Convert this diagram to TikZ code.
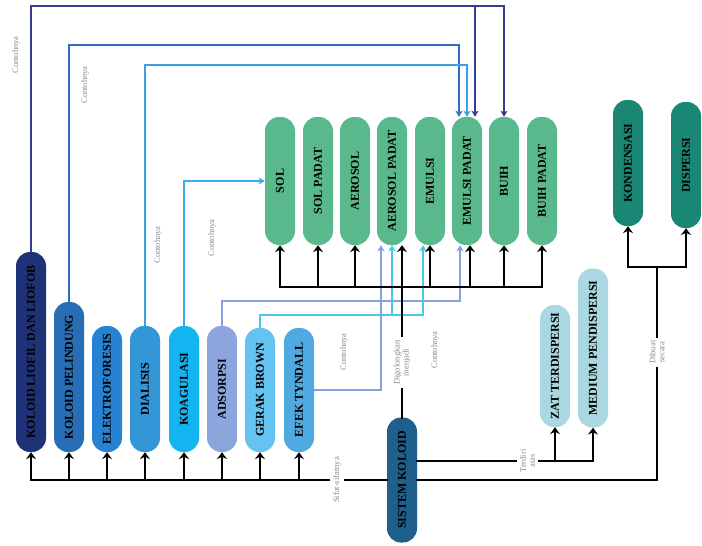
\documentclass[tikz,border=0pt]{standalone}
\usepackage{fontspec}
\setmainfont{Liberation Serif}
\usetikzlibrary{arrows,arrows.meta}

\definecolor{cLiofil}{HTML}{1F3278}
\definecolor{cPelindung}{HTML}{286EB4}
\definecolor{cElektro}{HTML}{2882D2}
\definecolor{cDialisis}{HTML}{3296D7}
\definecolor{cKoagulasi}{HTML}{14B4F0}
\definecolor{cAdsorpsi}{HTML}{8CA5DC}
\definecolor{cBrown}{HTML}{64C3F0}
\definecolor{cTyndall}{HTML}{50AAE1}
\definecolor{cJenis}{HTML}{5AB98C}
\definecolor{cCara}{HTML}{198773}
\definecolor{cFase}{HTML}{AAD7E1}
\definecolor{cSistem}{HTML}{1E5F8C}
\definecolor{lLiofil}{HTML}{373C96}
\definecolor{lPelindung}{HTML}{2D6EBE}
\definecolor{lDialisis}{HTML}{3CA0E6}
\definecolor{lKoagulasi}{HTML}{3CAAEB}
\definecolor{lAdsorpsi}{HTML}{8CA0E1}
\definecolor{lBrown}{HTML}{46C8E6}
\definecolor{lTyndall}{HTML}{87A0E1}

\begin{document}
\begin{tikzpicture}[x=1pt,y=-1pt,
  box/.style={rotate=90,rounded corners=14pt,minimum height=30pt,inner sep=2pt,
    font=\fontsize{12}{13}\selectfont\bfseries},
  trunk/.style={line width=2.4pt,line cap=rect,black},
  conn/.style={-{Stealth[length=7pt,width=10pt,inset=2.5pt]},line width=2.4pt,line cap=rect,black},
  link/.style={-{Stealth[length=6pt,width=7pt,inset=1.5pt]},line width=2pt},
  lbl/.style={rotate=90,font=\fontsize{8.5}{9}\selectfont,text=gray!90,align=center,inner sep=1pt},
  gap/.style={lbl,fill=white,inner sep=3pt}]
  \useasboundingbox (0,0) rectangle (702,546);

  % sifat-sifat
  \node[box,fill=cLiofil,minimum width=200pt] (liofil) at (31,352) {KOLOID LIOFIL DAN LIOFOB};
  \node[box,fill=cPelindung,minimum width=150pt] (pelindung) at (69,377) {KOLOID PELINDUNG};
  \node[box,fill=cElektro,minimum width=126pt] (elektroforesis) at (107,389) {ELEKTROFORESIS};
  \node[box,fill=cDialisis,minimum width=126pt] (dialisis) at (145,389) {DIALISIS};
  \node[box,fill=cKoagulasi,minimum width=126pt] (koagulasi) at (184,389) {KOAGULASI};
  \node[box,fill=cAdsorpsi,minimum width=126pt] (adsorpsi) at (222,389) {ADSORPSI};
  \node[box,fill=cBrown,minimum width=124pt] (gerak_brown) at (260,390) {GERAK BROWN};
  \node[box,fill=cTyndall,minimum width=124pt] (efek_tyndall) at (299,390) {EFEK TYNDALL};

  % jenis koloid
  \foreach \x/\n/\t in {280/sol/SOL,318/sol_padat/SOL PADAT,355/aerosol/AEROSOL,
      392/aerosol_padat/AEROSOL PADAT,430/emulsi/EMULSI,467/emulsi_padat/EMULSI PADAT,
      504/buih/BUIH,542/buih_padat/BUIH PADAT}
    \node[box,fill=cJenis,minimum width=128pt] (\n) at (\x,181) {\t};

  \node[box,fill=cCara,minimum width=126pt] (kondensasi) at (628,163) {KONDENSASI};
  \node[box,fill=cCara,minimum width=126pt] (dispersi) at (686,165) {DISPERSI};
  \node[box,fill=cFase,minimum width=122pt] (zat_terdispersi) at (555,366) {ZAT TERDISPERSI};
  \node[box,fill=cFase,minimum width=159pt] (medium_pendispersi) at (593,348) {MEDIUM PENDISPERSI};
  \node[box,fill=cSistem,minimum width=125pt] (sistem) at (402,480) {SISTEM KOLOID};

  % contoh
  \draw[link,lLiofil] (liofil.east) |- (buih.east |- 0,6) -- (buih.east);
  \draw[link,lLiofil] ([xshift=8pt]emulsi_padat.east |- 0,6) -- ([xshift=8pt]emulsi_padat.east);
  \draw[link,lPelindung] (pelindung.east) |- ([xshift=-8pt]emulsi_padat.east |- 0,45)
    -- ([xshift=-8pt]emulsi_padat.east);
  \draw[link,lDialisis] (dialisis.east) |- (emulsi_padat.east |- 0,65) -- (emulsi_padat.east);
  \draw[link,lKoagulasi] (koagulasi.east) |- (sol.north);
  \draw[link,lAdsorpsi] (adsorpsi.east) |- ([xshift=-7pt]emulsi_padat.west |- 0,301)
    -- ([xshift=-7pt]emulsi_padat.west);
  \draw[link,lBrown] (gerak_brown.east) |- ([xshift=-7pt]emulsi.west |- 0,315)
    -- ([xshift=-7pt]emulsi.west);
  \draw[link,lBrown] (aerosol_padat.west |- 0,315) -- (aerosol_padat.west);
  \draw[link,lTyndall] (efek_tyndall.south) -| ([xshift=-11pt]aerosol_padat.west);

  \node[lbl] (lbl_liofil) at (16,55) {Contohnya};
  \node[lbl] (lbl_pelindung) at (85,85) {Contohnya};
  \node[lbl] (lbl_dialisis) at (158,245) {Contohnya};
  \node[lbl] (lbl_koagulasi) at (212,238) {Contohnya};
  \node[lbl] (lbl_tyndall) at (344,352) {Contohnya};
  \node[lbl] (lbl_emulsi) at (435,350) {Contohnya};

  % dari sistem koloid
  \draw[trunk] (sistem.north) -- node[gap,pos=0.14] (lbl_sifat) {Sifat-sifatnya} (liofil.west |- sistem.north);
  \foreach \n in {liofil,pelindung,elektroforesis,dialisis,koagulasi,adsorpsi,gerak_brown,efek_tyndall}
    \draw[conn] (\n.west |- sistem.north) -- (\n.west);

  \coordinate (jenis_bar) at (402,287);
  \draw[trunk] (sistem.east) -- node[gap,pos=0.42] (lbl_golong) {Digolongkan\\menjadi} (jenis_bar);
  \draw[trunk] (sol.west |- jenis_bar) -- (buih_padat.west |- jenis_bar);
  \foreach \n in {sol,sol_padat,aerosol,emulsi,buih,buih_padat}
    \draw[conn] (\n.west |- jenis_bar) -- (\n.west);
  \draw[conn] (jenis_bar) -- (jenis_bar |- aerosol_padat.west);
  \draw[conn] ([xshift=3pt]emulsi_padat.west |- jenis_bar) -- ([xshift=3pt]emulsi_padat.west);

  \draw[trunk] ([yshift=19pt]sistem.south) -- node[gap,pos=0.8] (lbl_terdiri) {Terdiri\\atas}
    (zat_terdispersi.west |- 0,461) -- (medium_pendispersi.west |- 0,461);
  \draw[conn] (zat_terdispersi.west |- 0,461) -- (zat_terdispersi.west);
  \draw[conn] (medium_pendispersi.west |- 0,461) -- (medium_pendispersi.west);

  \coordinate (cara_turn) at (657,480);
  \coordinate (cara_bar) at (657,267);
  \draw[trunk] (sistem.south) -- (cara_turn) -- node[gap,pos=0.6] (lbl_dibuat) {Dibuat\\secara} (cara_bar);
  \draw[trunk] (kondensasi.west |- cara_bar) -- (dispersi.west |- cara_bar);
  \draw[conn] (kondensasi.west |- cara_bar) -- (kondensasi.west);
  \draw[conn] (dispersi.west |- cara_bar) -- (dispersi.west);
\end{tikzpicture}
\end{document}
